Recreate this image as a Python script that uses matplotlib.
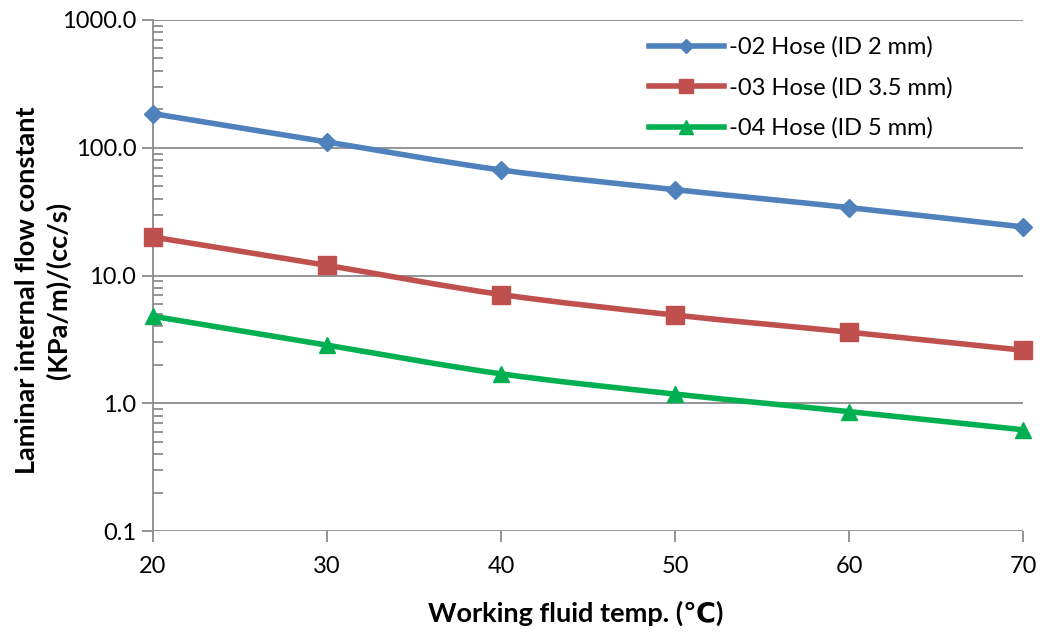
import numpy as np
import matplotlib
matplotlib.use("Agg")
import matplotlib.pyplot as plt
from matplotlib.path import Path
from matplotlib.patches import PathPatch
from matplotlib.ticker import FixedLocator, LogLocator, NullFormatter, FuncFormatter

plt.rcParams['font.family'] = ['Lato', 'DejaVu Sans']

# data
temps = [20, 30, 40, 50, 60, 70]
hose_02 = [185, 111, 67, 47, 34, 24]
hose_03 = [20, 12, 7.1, 4.9, 3.6, 2.6]
hose_04 = [4.8, 2.85, 1.7, 1.18, 0.86, 0.62]
labels = ['-02 Hose (ID 2 mm)', '-03 Hose (ID 3.5 mm)', '-04 Hose (ID 5 mm)']
colors = ['#4F81BD', '#C0504D', '#00B050']
markers = ['D', 's', '^']
msizes = [9, 13, 12]


def smooth_path(x, y):
    # excel-like smoothed line: cubic bezier through the points, built in log-y space
    x = np.asarray(x, float)
    ly = np.log10(np.asarray(y, float))
    n = len(x)
    verts = [(x[0], 10 ** ly[0])]
    codes = [Path.MOVETO]
    for i in range(n - 1):
        i0 = max(i - 1, 0)
        i3 = min(i + 2, n - 1)
        c1x = x[i] + (x[i + 1] - x[i0]) / 6
        c1y = ly[i] + (ly[i + 1] - ly[i0]) / 6
        c2x = x[i + 1] - (x[i3] - x[i]) / 6
        c2y = ly[i + 1] - (ly[i3] - ly[i]) / 6
        verts += [(c1x, 10 ** c1y), (c2x, 10 ** c2y), (x[i + 1], 10 ** ly[i + 1])]
        codes += [Path.CURVE4] * 3
    return Path(verts, codes)


fig = plt.figure(figsize=(10.43, 6.37), dpi=100)
ax = fig.add_axes([153 / 1043, 106 / 637, 870 / 1043, 511 / 637])
ax.set_yscale('log')
ax.set_ylim(0.1, 1000)
ax.set_xlim(20, 70)

for vals, lab, c, m, ms in zip([hose_02, hose_03, hose_04], labels, colors, markers, msizes):
    ax.add_patch(PathPatch(smooth_path(temps, vals), facecolor='none', edgecolor=c,
                           lw=4, capstyle='round', zorder=3))
    ax.plot(temps, vals, ls='none', marker=m, color=c, ms=ms, zorder=4, clip_on=False)
    ax.plot([], [], color=c, lw=4, marker=m, ms=ms * 0.8, label=lab)

ax.grid(True, axis='y', which='major', color='#8c8c8c', lw=1.3)
ax.set_axisbelow(True)
for s in ['top', 'right', 'bottom']:
    ax.spines[s].set_visible(False)
ax.spines['left'].set_color('#8c8c8c')
ax.spines['left'].set_linewidth(1.3)

ax.xaxis.set_major_locator(FixedLocator(temps))
ax.yaxis.set_major_locator(FixedLocator([0.1, 1, 10, 100, 1000]))
ax.yaxis.set_major_formatter(FuncFormatter(lambda v, p: f'{v:.1f}'))
ax.yaxis.set_minor_locator(LogLocator(base=10, subs=np.arange(2, 10)))
ax.yaxis.set_minor_formatter(NullFormatter())
ax.tick_params(axis='y', which='major', length=8, width=1.3, color='#8c8c8c',
               labelsize=17, pad=4)
ax.tick_params(axis='y', which='minor', direction='in', length=7, width=1.3, color='#8c8c8c')
ax.tick_params(axis='x', which='major', length=8, width=1.3, color='#8c8c8c',
               labelsize=17, pad=10)
ax.tick_params(axis='x', which='minor', bottom=False)

# axis titles placed like the excel original
fig.text(576 / 1043, 1 - 613 / 637, 'Working fluid temp. (\u2103)', fontsize=19.5,
         fontweight='bold', ha='center', va='center')
fig.text(43 / 1043, 1 - 290 / 637, 'Laminar internal flow constant\n(KPa/m)/(cc/s)',
         fontsize=19.5, fontweight='bold', ha='center', va='center', rotation=90,
         multialignment='center', linespacing=1.3)

leg = ax.legend(loc='upper right', bbox_to_anchor=(0.938, 1.0), frameon=False,
                fontsize=17, handlelength=3.2, handletextpad=0.2, labelspacing=0.8,
                borderaxespad=0.3)

fig.savefig('out.png', dpi=100)
